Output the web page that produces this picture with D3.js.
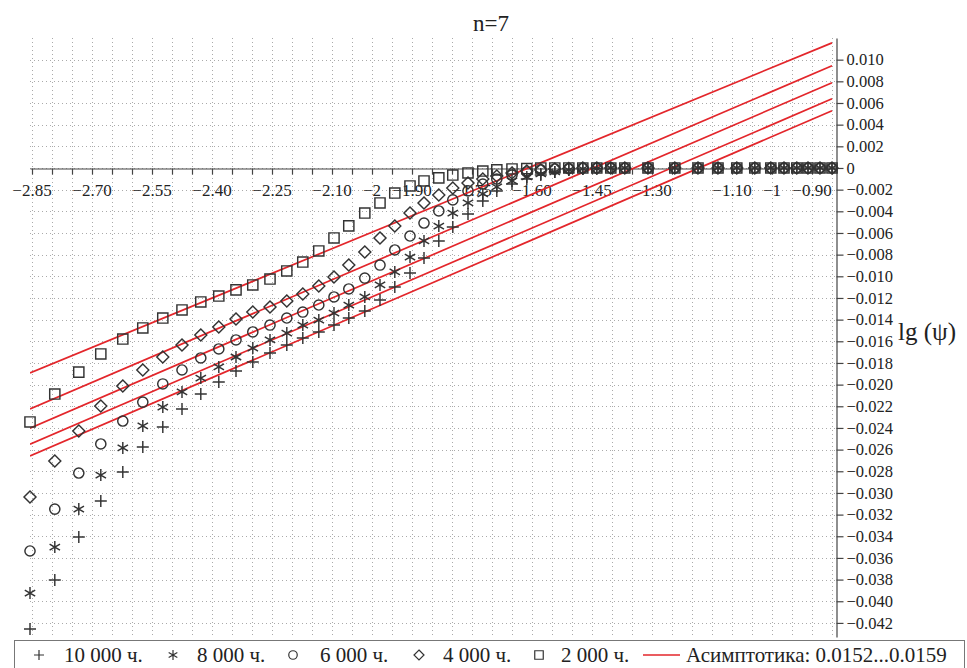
<!DOCTYPE html>
<html>
<head>
<meta charset="utf-8">
<script src="https://cdn.jsdelivr.net/npm/d3@7"></script>
<style>
  body { margin: 0; background: #fff; }
  text { font-family: "Liberation Serif", "Times New Roman", serif; fill: #222; }
</style>
</head>
<body>
<svg id="chart" width="967" height="668"></svg>
<script>
// lg of the argument, shared by every series
const lgX = [-2.855, -2.793, -2.733, -2.678, -2.623, -2.573, -2.523, -2.475, -2.428, -2.383,
             -2.340, -2.298, -2.255, -2.213, -2.173, -2.133, -2.095, -2.058, -2.018, -1.980,
             -1.943, -1.905, -1.870, -1.833, -1.798, -1.760, -1.723, -1.688, -1.650, -1.613,
             -1.578, -1.543, -1.508, -1.473, -1.438, -1.403, -1.368, -1.310, -1.243, -1.185,
             -1.135, -1.088, -1.043, -1.003, -0.970, -0.938, -0.910, -0.880, -0.850];

// lg(psi) for each exposure time
const psi10000 = [-0.04257, -0.03804, -0.03407, -0.03075, -0.02807, -0.02576, -0.02392, -0.02225, -0.02087, -0.01976,
                  -0.01874, -0.01791, -0.01708, -0.01634, -0.01570, -0.01514, -0.01450, -0.01385, -0.01321, -0.01219,
                  -0.01099, -0.00970, -0.00831, -0.00674, -0.00545, -0.00425, -0.00305, -0.00212, -0.00148, -0.00102,
                  -0.00065, -0.00037, -0.00018, -0.00009, -0.00005, 0, 0, 0, 0, 0,
                  0, 0, 0, 0, 0, 0, 0, 0, 0];
const psi8000 = [-0.03924, -0.03500, -0.03149, -0.02835, -0.02585, -0.02382, -0.02207, -0.02068, -0.01939, -0.01837,
                 -0.01745, -0.01662, -0.01588, -0.01524, -0.01450, -0.01404, -0.01339, -0.01265, -0.01191, -0.01080,
                 -0.00960, -0.00822, -0.00674, -0.00536, -0.00416, -0.00323, -0.00240, -0.00175, -0.00120, -0.00083,
                 -0.00055, -0.00037, -0.00018, -0.00009, -0.00005, 0, 0, 0, 0, 0,
                 0, 0, 0, 0, 0, 0, 0, 0, 0];
const psi6000 = [-0.03536, -0.03149, -0.02816, -0.02548, -0.02336, -0.02161, -0.01994, -0.01865, -0.01754, -0.01671,
                 -0.01588, -0.01514, -0.01450, -0.01385, -0.01330, -0.01265, -0.01191, -0.01117, -0.01016, -0.00896,
                 -0.00757, -0.00628, -0.00508, -0.00397, -0.00295, -0.00212, -0.00148, -0.00102, -0.00065, -0.00037,
                 -0.00018, -0.00009, -0.00005, 0, 0, 0, 0, 0, 0, 0,
                 0, 0, 0, 0, 0, 0, 0, 0, 0];
const psi4000 = [-0.03038, -0.02705, -0.02428, -0.02198, -0.02013, -0.01865, -0.01745, -0.01634, -0.01542, -0.01468,
                 -0.01394, -0.01330, -0.01283, -0.01228, -0.01163, -0.01090, -0.01006, -0.00896, -0.00776, -0.00646,
                 -0.00535, -0.00416, -0.00323, -0.00249, -0.00185, -0.00139, -0.00102, -0.00074, -0.00046, -0.00028,
                 -0.00018, -0.00009, -0.00005, 0, 0, 0, 0, 0, 0, 0,
                 0, 0, 0, 0, 0, 0, 0, 0, 0];
const psi2000 = [-0.02345, -0.02087, -0.01884, -0.01717, -0.01579, -0.01477, -0.01385, -0.01311, -0.01237, -0.01182,
                 -0.01126, -0.01080, -0.01025, -0.00951, -0.00868, -0.00766, -0.00646, -0.00535, -0.00416, -0.00323,
                 -0.00231, -0.00166, -0.00120, -0.00092, -0.00065, -0.00046, -0.00028, -0.00018, -0.00009, -0.00005,
                 0, 0, 0, 0, 0, 0, 0, 0, 0, 0,
                 0, 0, 0, 0, 0, 0, 0, 0, 0];

const seriesNames = ["10 000 ч.", "8 000 ч.", "6 000 ч.", "4 000 ч.", "2 000 ч."];
const seriesSymbols = ["plus", "star", "circle", "diamond", "square"];
const seriesValues = [psi10000, psi8000, psi6000, psi4000, psi2000];

// asymptotes y = a + b*x, one per series
const asymSlopes = [0.0159, 0.0159, 0.0159, 0.0158, 0.0152];
const asymIntercepts = [0.01880, 0.01990, 0.02138, 0.02286, 0.02447];
const asymLabel = "Асимптотика: 0.0152...0.0159";

const titleText = "n=7";
const yLabelText = "lg (ψ)";

const xTickValues = [-2.85, -2.70, -2.55, -2.40, -2.25, -2.10, -2, -1.90, -1.75, -1.60, -1.45, -1.30, -1.10, -1, -0.90];
const xTickText = ["−2.85", "−2.70", "−2.55", "−2.40", "−2.25", "−2.10", "−2", "−1.90", "−1.75", "−1.60", "−1.45", "−1.30", "−1.10", "−1", "−0.90"];
const yTickValues = [0.010, 0.008, 0.006, 0.004, 0.002, 0, -0.002, -0.004, -0.006, -0.008,
                     -0.010, -0.012, -0.014, -0.016, -0.018, -0.020, -0.022, -0.024, -0.026, -0.028,
                     -0.030, -0.032, -0.034, -0.036, -0.038, -0.040, -0.042];

// ---- layout ----
const svg = d3.select("#chart");
const plotL = 30, plotR = 836, plotT = 38, plotB = 637;
const x = d3.scaleLinear().domain([-2.855, -0.84]).range([plotL, plotR]);
const y = d3.scaleLinear().domain([-0.0433, 0.012]).range([plotB, plotT]);

const markColor = "#333";
const redColor = "#e3262b";

// dotted grid
const gridX = d3.range(-2.85, -0.849, 0.05);
const grid = svg.append("g").attr("stroke", "#aaa").attr("stroke-width", 1)
  .attr("stroke-dasharray", "1,3");
grid.selectAll("line.v").data(gridX).join("line").attr("class", "v")
  .attr("x1", d => Math.round(x(d)) + 0.5).attr("x2", d => Math.round(x(d)) + 0.5)
  .attr("y1", plotT).attr("y2", plotB);
grid.selectAll("line.h").data(yTickValues).join("line").attr("class", "h")
  .attr("x1", plotL).attr("x2", plotR)
  .attr("y1", d => Math.round(y(d)) + 0.5).attr("y2", d => Math.round(y(d)) + 0.5);

// horizontal axis along y = 0
const xAxis = d3.axisBottom(x).tickValues(gridX).tickSize(6).tickSizeOuter(0).tickFormat("");
const gx = svg.append("g").attr("transform", `translate(0,${Math.round(y(0)) + 0.5})`).call(xAxis);
gx.selectAll("path,line").attr("stroke", "#444").attr("stroke-width", 1.2);
gx.selectAll("text.lbl").data(xTickValues).join("text")
  .attr("class", "lbl")
  .attr("x", d => x(d)).attr("y", 27)
  .attr("text-anchor", "middle").attr("font-size", 17)
  .text((d, i) => xTickText[i]);

// vertical axis on the right
const yAxis = d3.axisRight(y).tickValues(yTickValues).tickSize(7).tickSizeOuter(0).tickPadding(3)
  .tickFormat(d => d === 0 ? "0" : d3.format(".3f")(d));
const gy = svg.append("g").attr("transform", `translate(${plotR + 0.5},0)`).call(yAxis);
gy.selectAll("path,line").attr("stroke", "#444").attr("stroke-width", 1.2);
gy.selectAll("text").attr("font-size", 16.5).attr("fill", "#222")
  .style("font-family", "'Liberation Serif', 'Times New Roman', serif");

// asymptotes
svg.append("defs").append("clipPath").attr("id", "plotClip")
  .append("rect").attr("x", plotL).attr("y", plotT).attr("width", plotR - plotL).attr("height", plotB - plotT);
const xExt = d3.extent(lgX);
const line = d3.line().x(d => x(d[0])).y(d => y(d[1]));
svg.append("g").attr("clip-path", "url(#plotClip)")
  .selectAll("path").data(asymSlopes.map((b, i) => xExt.map(v => [v, asymIntercepts[i] + b * v])))
  .join("path")
  .attr("d", line).attr("fill", "none").attr("stroke", redColor).attr("stroke-width", 1.7);

// marker shapes
function symbolPath(type, r) {
  const c = Math.cos(Math.PI / 6);
  switch (type) {
    case "plus": return `M${-r},0H${r}M0,${-r}V${r}`;
    case "star": return `M0,${-r}V${r}M${-r * c},${-r / 2}L${r * c},${r / 2}M${-r * c},${r / 2}L${r * c},${-r / 2}`;
    case "circle": return d3.arc()({innerRadius: 0, outerRadius: r * 0.85, startAngle: 0, endAngle: 2 * Math.PI});
    case "diamond": return `M0,${-r}L${r},0L0,${r}L${-r},0Z`;
    case "square": { const s = r * 0.85; return `M${-s},${-s}H${s}V${s}H${-s}Z`; }
  }
}

const pts = svg.append("g");
seriesValues.forEach((vals, si) => {
  pts.append("g").selectAll("path").data(vals.map((v, i) => [lgX[i], v])).join("path")
    .attr("transform", d => `translate(${x(d[0])},${y(d[1])})`)
    .attr("d", symbolPath(seriesSymbols[si], 6))
    .attr("fill", "none").attr("stroke", markColor).attr("stroke-width", 1.45);
});

// title and axis label
svg.append("text").attr("x", 491).attr("y", 31).attr("text-anchor", "middle")
  .attr("font-size", 23).text(titleText);
svg.append("text").attr("x", 898).attr("y", 340).attr("font-size", 25).text(yLabelText);

// legend (its frame runs past the bottom edge)
const lg = svg.append("g");
lg.append("rect").attr("x", 14.5).attr("y", 640.5).attr("width", 950).attr("height", 40)
  .attr("fill", "#fff").attr("stroke", "#777").attr("stroke-width", 1);
const legendSymX = [39, 173, 293, 419, 539];
const legendTextX = [64, 197, 320, 443, 561];
seriesNames.forEach((name, i) => {
  lg.append("path").attr("transform", `translate(${legendSymX[i]},655)`)
    .attr("d", symbolPath(seriesSymbols[i], 5))
    .attr("fill", "none").attr("stroke", markColor).attr("stroke-width", 1.2);
  lg.append("text").attr("x", legendTextX[i]).attr("y", 662).attr("font-size", 21).text(name);
});
lg.append("line").attr("x1", 643).attr("x2", 680).attr("y1", 655).attr("y2", 655)
  .attr("stroke", redColor).attr("stroke-width", 1.7);
lg.append("text").attr("x", 686).attr("y", 662).attr("font-size", 21).text(asymLabel);
</script>
</body>
</html>
